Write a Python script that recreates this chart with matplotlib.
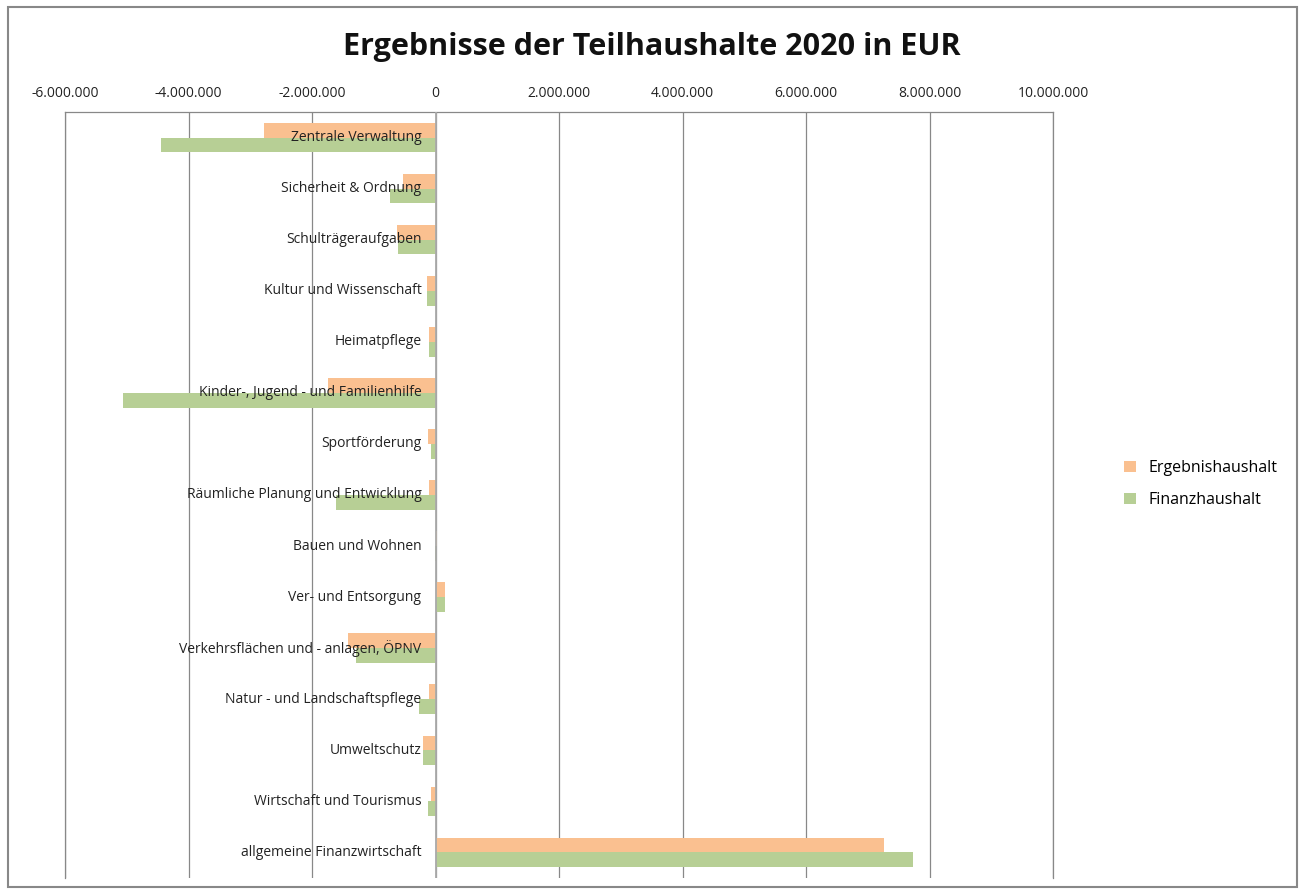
import numpy as np
import matplotlib.pyplot as plt
from matplotlib.patches import Rectangle

# Daten
kategorien = ["Zentrale Verwaltung", "Sicherheit & Ordnung", "Schulträgeraufgaben",
              "Kultur und Wissenschaft", "Heimatpflege", "Kinder-, Jugend - und Familienhilfe",
              "Sportförderung", "Räumliche Planung und Entwicklung", "Bauen und Wohnen",
              "Ver- und Entsorgung", "Verkehrsflächen und - anlagen, ÖPNV",
              "Natur - und Landschaftspflege", "Umweltschutz", "Wirtschaft und Tourismus",
              "allgemeine Finanzwirtschaft"]
ergebnis = [-2780000, -520000, -630000, -140000, -110000, -1740000, -120000, -100000,
            30000, 150000, -1410000, -100000, -210000, -80000, 7270000]
finanz = [-4450000, -740000, -600000, -140000, -110000, -5060000, -80000, -1610000,
          -10000, 150000, -1280000, -270000, -210000, -120000, 7730000]
ticks = np.arange(-6000000, 10000001, 2000000)

plt.rcParams['font.family'] = ['Open Sans', 'DejaVu Sans']

fig = plt.figure(figsize=(13.04, 8.94), dpi=100)
ax = fig.add_axes([65/1304, 1-878/894, (1053-65)/1304, (878-112)/894])

y = np.arange(len(kategorien))
h = 0.29
ax.barh(y - h/2, ergebnis, height=h, color='#FAC090', label='Ergebnishaushalt', zorder=2)
ax.barh(y + h/2, finanz, height=h, color='#B7CF95', label='Finanzhaushalt', zorder=2)

ax.set_xlim(-6000000, 10000000)
ax.set_ylim(len(kategorien) - 0.5, -0.5)
ax.set_xticks(ticks)
ax.set_xticklabels([f"{t:,}".replace(",", ".") for t in ticks], fontsize=10, color='#222222')
ax.xaxis.tick_top()
ax.tick_params(axis='x', length=0, pad=8)
ax.set_yticks([])
ax.grid(axis='x', color='#888888', linewidth=0.9, zorder=0)
ax.axvline(0, color='#AAAAAA', linewidth=1.3, zorder=3)
ax.spines['bottom'].set_visible(False)
for s in ['left', 'right', 'top']:
    ax.spines[s].set_color('#888888')
    ax.spines[s].set_linewidth(0.9)

for i, k in enumerate(kategorien):
    ax.annotate(k, xy=(0, i), xytext=(-14, 0), textcoords='offset pixels',
                ha='right', va='center', fontsize=10, color='#222222', zorder=4)

fig.text(0.5, 1-47/894, "Ergebnisse der Teilhaushalte 2020 in EUR", ha='center', va='center',
         fontsize=22, fontweight='bold', color='#111111')

fig.legend(loc='center left', bbox_to_anchor=(1110/1304, 1-484/894), frameon=False,
           fontsize=11.5, handlelength=0.7, handleheight=0.7, labelspacing=1.0)

fig.patches.append(Rectangle((8/1304, 7/894), 1289/1304, 880/894, transform=fig.transFigure,
                             fill=False, edgecolor='#888888', linewidth=1.5))

fig.savefig("out.png", dpi=100)
